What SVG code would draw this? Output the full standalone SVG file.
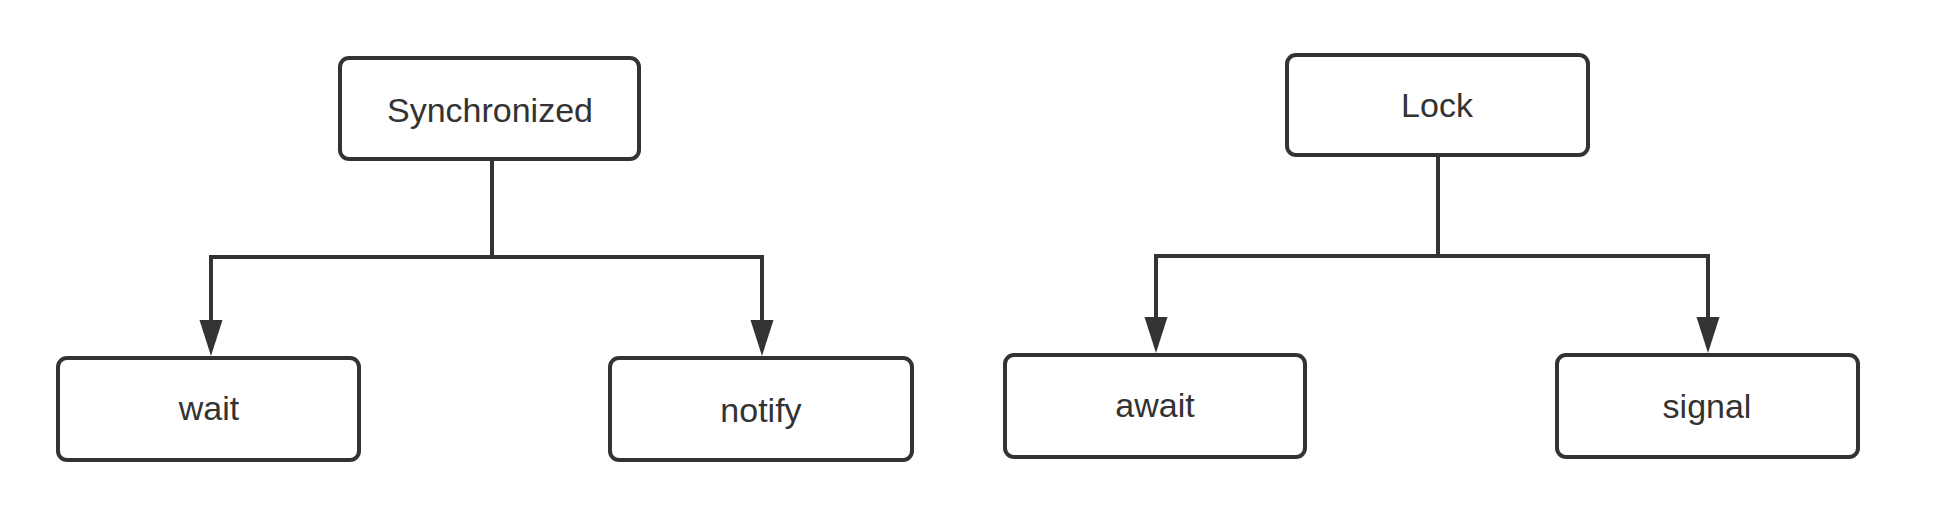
<svg xmlns="http://www.w3.org/2000/svg" width="1948" height="528" viewBox="0 0 1948 528">
<defs>
<style>
.box{fill:#ffffff;stroke:#333333;stroke-width:4}
.lbl{font-family:"Liberation Sans","Noto Sans",sans-serif;font-size:34px;fill:#333333;text-anchor:middle}
.conn{fill:none;stroke:#333333;stroke-width:4;stroke-linejoin:miter}
</style>
<marker id="arr" markerUnits="userSpaceOnUse" markerWidth="38" markerHeight="24" refX="0" refY="11.5" orient="auto">
<path d="M0,0 L36,11.5 L0,23 z" fill="#333333"/>
</marker>
</defs>
<rect width="1948" height="528" fill="#ffffff"/>
<g id="connectors">
<path class="conn" d="M492,159 V257"/>
<path class="conn" d="M492,257 H211 V320" marker-end="url(#arr)"/>
<path class="conn" d="M492,257 H762 V320" marker-end="url(#arr)"/>
<path class="conn" d="M1438,155 V256"/>
<path class="conn" d="M1438,256 H1156 V317" marker-end="url(#arr)"/>
<path class="conn" d="M1438,256 H1708 V317" marker-end="url(#arr)"/>
</g>
<g id="synchronized">
<rect class="box" x="340" y="58" width="299" height="101" rx="9"/>
<text class="lbl" x="490" y="122">Synchronized</text>
</g>
<g id="wait">
<rect class="box" x="58" y="358" width="301" height="102" rx="9"/>
<text class="lbl" x="209" y="420">wait</text>
</g>
<g id="notify">
<rect class="box" x="610" y="358" width="302" height="102" rx="9"/>
<text class="lbl" x="761" y="422">notify</text>
</g>
<g id="lock">
<rect class="box" x="1287" y="55" width="301" height="100" rx="9"/>
<text class="lbl" x="1437" y="117">Lock</text>
</g>
<g id="await">
<rect class="box" x="1005" y="355" width="300" height="102" rx="9"/>
<text class="lbl" x="1155" y="417">await</text>
</g>
<g id="signal">
<rect class="box" x="1557" y="355" width="301" height="102" rx="9"/>
<text class="lbl" x="1707" y="418">signal</text>
</g>
</svg>
